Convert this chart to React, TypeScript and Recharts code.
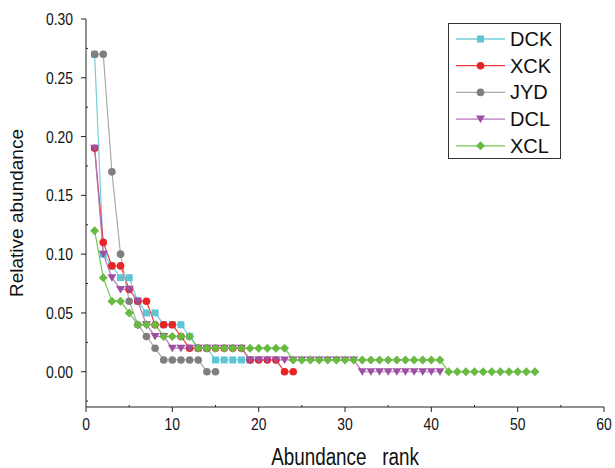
import React from "react";
import { LineChart, Line, XAxis, YAxis } from "recharts";

const xTicks = [0, 5, 10, 15, 20, 25, 30, 35, 40, 45, 50, 55, 60];
const yTicks = [-0.025, 0, 0.025, 0.05, 0.075, 0.1, 0.125, 0.15, 0.175, 0.2, 0.225, 0.25, 0.275, 0.3];
const yLabels = ["0.00", "0.05", "0.10", "0.15", "0.20", "0.25", "0.30"];

// relative abundance by rank (rank = index + 1)
const dck = [0.27, 0.1, 0.09, 0.08, 0.08, 0.06, 0.05, 0.05, 0.04, 0.04, 0.04, 0.03, 0.02, 0.02, 0.01, 0.01, 0.01, 0.01, 0.01];
const xck = [0.19, 0.11, 0.09, 0.09, 0.07, 0.06, 0.06, 0.04, 0.04, 0.04, 0.03, 0.02, 0.02, 0.02, 0.02, 0.02, 0.02, 0.02, 0.01, 0.01, 0.01, 0.01, 0, 0];
const jyd = [0.27, 0.27, 0.17, 0.1, 0.06, 0.04, 0.03, 0.02, 0.01, 0.01, 0.01, 0.01, 0.01, 0, 0];
const dcl = [
  0.19, 0.1, 0.08, 0.07, 0.07, 0.06, 0.04, 0.03, 0.03,
  0.02, 0.02, 0.02, 0.02, 0.02, 0.02, 0.02, 0.02, 0.02,
  0.01, 0.01, 0.01, 0.01, 0.01, 0.01, 0.01, 0.01, 0.01, 0.01, 0.01, 0.01, 0.01,
  0, 0, 0, 0, 0, 0, 0, 0, 0, 0,
];
const xcl = [
  0.12, 0.08, 0.06, 0.06, 0.05, 0.04, 0.04, 0.04, 0.03, 0.03, 0.03, 0.03,
  0.02, 0.02, 0.02, 0.02, 0.02, 0.02, 0.02, 0.02, 0.02, 0.02, 0.02,
  0.01, 0.01, 0.01, 0.01, 0.01, 0.01, 0.01, 0.01, 0.01, 0.01, 0.01, 0.01, 0.01, 0.01, 0.01, 0.01, 0.01, 0.01,
  0, 0, 0, 0, 0, 0, 0, 0, 0, 0, 0,
];

const toPoints = (vals: number[]) => vals.map((v, i) => ({ rank: i + 1, value: v }));

const series = [
  { name: "DCK", values: dck, line: "#72d0dc", fill: "#5cc6d4", shape: "square" },
  { name: "XCK", values: xck, line: "#f03a3a", fill: "#ea2424", shape: "circle" },
  { name: "JYD", values: jyd, line: "#a9a9a9", fill: "#7f7f7f", shape: "circle" },
  { name: "DCL", values: dcl, line: "#b577bd", fill: "#9c4fa3", shape: "triangle" },
  { name: "XCL", values: xcl, line: "#74c452", fill: "#68ba42", shape: "diamond" },
];

const font = "'Liberation Sans', Arial, sans-serif";
const narrow = 0.82; // squeeze to look like Arial Narrow

function Marker({ shape, cx, cy, fill }: any) {
  if (shape === "square") return <rect x={cx - 3.5} y={cy - 3.5} width={7} height={7} fill={fill} />;
  if (shape === "triangle")
    return <polygon points={`${cx - 4.5},${cy - 3.5} ${cx + 4.5},${cy - 3.5} ${cx},${cy + 4}`} fill={fill} />;
  if (shape === "diamond")
    return <polygon points={`${cx},${cy - 4.5} ${cx + 4.5},${cy} ${cx},${cy + 4.5} ${cx - 4.5},${cy}`} fill={fill} />;
  return <circle cx={cx} cy={cy} r={3.8} fill={fill} />;
}

function NarrowText({ x, y, anchor, size, children }: any) {
  return (
    <text
      transform={`translate(${x},${y}) scale(${narrow},1)`}
      textAnchor={anchor}
      fontSize={size}
      fill="#111"
      fontFamily={font}
      style={{ whiteSpace: "pre" }}
    >
      {children}
    </text>
  );
}

function XTick({ x, y, payload }: any) {
  const major = payload.value % 10 === 0;
  return (
    <g>
      <line x1={x} x2={x} y1={y} y2={major ? y + 5 : y - 2} stroke="#222" />
      {major && (
        <NarrowText x={x} y={y + 23} anchor="middle" size={17}>
          {payload.value}
        </NarrowText>
      )}
    </g>
  );
}

function YTick({ x, y, payload }: any) {
  const idx = Math.round(payload.value / 0.05);
  const major = Math.abs(payload.value - idx * 0.05) < 1e-6 && idx >= 0;
  return (
    <g>
      <line x1={x} x2={major ? x - 5 : x + 2} y1={y} y2={y} stroke="#222" />
      {major && (
        <NarrowText x={x - 13} y={y + 6} anchor="end" size={17}>
          {yLabels[idx]}
        </NarrowText>
      )}
    </g>
  );
}

function XLabel({ viewBox }: any) {
  const cx = viewBox.x + viewBox.width / 2;
  return (
    <NarrowText x={cx} y={viewBox.y + 58} anchor="middle" size={23}>
      {"Abundance   rank"}
    </NarrowText>
  );
}

function YLabel({ viewBox }: any) {
  const cx = 16;
  const cy = viewBox.y + viewBox.height / 2;
  return (
    <text x={cx} y={cy} transform={`rotate(-90 ${cx} ${cy})`} textAnchor="middle" dominantBaseline="central" fontSize={19} fill="#111" fontFamily={font}>
      Relative abundance
    </text>
  );
}

function LegendBox() {
  return (
    <svg width={114} height={137} style={{ display: "block" }}>
      <rect x={0.5} y={0.5} width={112} height={135} fill="#fff" stroke="#333" />
      {series.map((s, i) => {
        const cy = 16 + i * 26.7;
        return (
          <g key={s.name}>
            <line x1={8} x2={57} y1={cy} y2={cy} stroke={s.line} strokeWidth={1.3} />
            <Marker shape={s.shape} cx={32.5} cy={cy} fill={s.fill} />
            <text x={62} y={cy} dy={7} fontSize={20} fill="#111" fontFamily={font}>
              {s.name}
            </text>
          </g>
        );
      })}
    </svg>
  );
}

export default function App() {
  return (
    <div style={{ position: "absolute", left: 0, top: 0, width: 615, height: 468, background: "#fff" }}>
      <LineChart width={615} height={468} margin={{ top: 19, right: 11, left: 0, bottom: 0 }}>
        <XAxis
          dataKey="rank"
          type="number"
          domain={[0, 60]}
          ticks={xTicks}
          interval={0}
          height={61}
          tickSize={0}
          tickMargin={0}
          tick={<XTick />}
          stroke="#222"
          allowDataOverflow
          label={<XLabel />}
        />
        <YAxis
          type="number"
          domain={[-0.03, 0.3]}
          ticks={yTicks}
          interval={0}
          width={86}
          tickSize={0}
          tickMargin={0}
          tick={<YTick />}
          stroke="#222"
          allowDataOverflow
          label={<YLabel />}
        />
        {series.map((s) => (
          <Line
            key={s.name}
            name={s.name}
            data={toPoints(s.values)}
            dataKey="value"
            stroke={s.line}
            strokeWidth={1.2}
            isAnimationActive={false}
            dot={(p: any) => <Marker key={`${s.name}-${p.index}`} shape={s.shape} cx={p.cx} cy={p.cy} fill={s.fill} />}
            activeDot={false}
          />
        ))}
      </LineChart>
      <div style={{ position: "absolute", left: 448, top: 23 }}>
        <LegendBox />
      </div>
    </div>
  );
}
